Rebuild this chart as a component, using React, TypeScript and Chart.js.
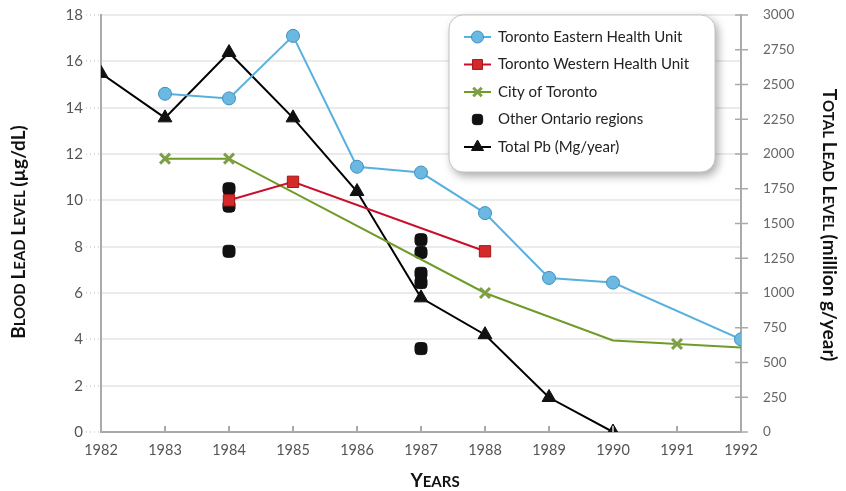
import React, { useEffect, useRef } from "react";
import { Chart, registerables } from "chart.js";
import { drawPoint } from "chart.js/helpers";

Chart.register(...registerables);

const xMin = 1982;
const xMax = 1992;

const eastYears = [1983, 1984, 1985, 1986, 1987, 1988, 1989, 1990, 1992];
const eastValues = [14.6, 14.4, 17.1, 11.45, 11.2, 9.45, 6.65, 6.45, 4.0];

const westYears = [1984, 1985, 1988];
const westValues = [10.0, 10.8, 7.8];

const cityYears = [1983, 1984, 1988, 1990, 1991, 1992];
const cityValues = [11.8, 11.8, 6.0, 3.95, 3.8, 3.65];
const cityMarkers = [true, true, true, false, true, false];

const otherYears = [1984, 1984, 1984, 1987, 1987, 1987, 1987, 1987];
const otherValues = [10.5, 9.75, 7.8, 8.3, 7.75, 6.85, 6.45, 3.6];

const totalYears = [1982, 1983, 1984, 1985, 1986, 1987, 1988, 1989, 1990];
const totalValues = [2580, 2260, 2730, 2260, 1730, 965, 700, 248, 0];

const seriesLabels = [
  "Toronto Eastern Health Unit",
  "Toronto Western Health Unit",
  "City of Toronto",
  "Other Ontario regions",
  "Total Pb (Mg/year)",
];

const leftTitle: [string, boolean][] = [
  ["B", true], ["LOOD ", false], ["L", true], ["EAD ", false], ["L", true], ["EVEL ", false], ["(µg/dL)", true],
];
const rightTitle: [string, boolean][] = [
  ["T", true], ["OTAL ", false], ["L", true], ["EAD ", false], ["L", true], ["EVEL ", false], ["(million g/year)", true],
];
const xTitle: [string, boolean][] = [["Y", true], ["EARS", false]];

const FONT = "Lato, 'Open Sans', sans-serif";

const pts = (xs: number[], ys: number[]) => xs.map((x, i) => ({ x, y: ys[i] }));

function drawSegments(ctx: CanvasRenderingContext2D, segs: [string, boolean][], cx: number, cy: number, rot: number) {
  const big = "bold 19px " + FONT;
  const small = "bold 15px " + FONT;
  let total = 0;
  const widths = segs.map(([t, b]) => {
    ctx.font = b ? big : small;
    const w = ctx.measureText(t).width;
    total += w;
    return w;
  });
  ctx.save();
  ctx.translate(cx, cy);
  ctx.rotate(rot);
  ctx.fillStyle = "#111";
  ctx.textBaseline = "alphabetic";
  ctx.textAlign = "left";
  let x = -total / 2;
  segs.forEach(([t, b], i) => {
    ctx.font = b ? big : small;
    ctx.fillText(t, x, 7);
    x += widths[i];
  });
  ctx.restore();
}

const decorPlugin = {
  id: "decor",
  afterDraw(chart: any) {
    const ctx: CanvasRenderingContext2D = chart.ctx;
    const x = chart.scales.x;
    const y2 = chart.scales.y2;
    const area = chart.chartArea;
    ctx.save();
    ctx.strokeStyle = "#aaaaaa";
    ctx.lineWidth = 2;
    for (let yr = xMin + 1; yr <= xMax; yr++) {
      const px = x.getPixelForValue(yr);
      ctx.beginPath();
      ctx.moveTo(px, area.bottom);
      ctx.lineTo(px, area.bottom - 6);
      ctx.stroke();
    }
    ctx.lineWidth = 1.5;
    y2.ticks.forEach((t: any) => {
      const py = y2.getPixelForValue(t.value);
      ctx.beginPath();
      ctx.moveTo(area.right - 6, py);
      ctx.lineTo(area.right + 7, py);
      ctx.stroke();
    });
    ctx.restore();

    drawSegments(ctx, leftTitle, 18, 232, -Math.PI / 2);
    drawSegments(ctx, rightTitle, 830, 225, Math.PI / 2);
    drawSegments(ctx, xTitle, 435, 480, 0);

    const bx = 449, by = 15, bw = 266, bh = 157, r = 14;
    ctx.save();
    ctx.shadowColor = "rgba(0,0,0,0.35)";
    ctx.shadowBlur = 10;
    ctx.shadowOffsetX = 3;
    ctx.shadowOffsetY = 4;
    ctx.beginPath();
    ctx.roundRect(bx, by, bw, bh, r);
    ctx.fillStyle = "#ffffff";
    ctx.fill();
    ctx.restore();
    ctx.save();
    ctx.beginPath();
    ctx.roundRect(bx, by, bw, bh, r);
    ctx.strokeStyle = "#c4c4c4";
    ctx.lineWidth = 1;
    ctx.stroke();
    ctx.restore();

    chart.data.datasets.forEach((ds: any, i: number) => {
      const cy = 37 + i * 27.5;
      ctx.save();
      if (ds.showLine !== false) {
        ctx.strokeStyle = ds.borderColor;
        ctx.lineWidth = 2;
        ctx.beginPath();
        ctx.moveTo(464, cy);
        ctx.lineTo(491, cy);
        ctx.stroke();
      }
      ctx.fillStyle = ds.pointBackgroundColor;
      ctx.strokeStyle = ds.pointBorderColor;
      ctx.lineWidth = ds.pointBorderWidth;
      drawPoint(
        ctx,
        { pointStyle: ds.pointStyle, rotation: 0, radius: ds.legendRadius, borderWidth: ds.pointBorderWidth } as any,
        477.5,
        cy
      );
      ctx.restore();
      ctx.save();
      ctx.fillStyle = "#222";
      ctx.font = "15px " + FONT;
      ctx.textBaseline = "middle";
      ctx.textAlign = "left";
      ctx.fillText(ds.label, 498, cy);
      ctx.restore();
    });
  },
};

const fitV = (w: number) => (s: any) => {
  s.width = w;
  s.paddingTop = 0;
  s.paddingBottom = 0;
};

export default function App() {
  const ref = useRef<HTMLCanvasElement>(null);
  useEffect(() => {
    if (!ref.current) return;
    const chart = new Chart(ref.current, {
      type: "line",
      data: {
        datasets: [
          {
            label: seriesLabels[0],
            data: pts(eastYears, eastValues),
            yAxisID: "y",
            borderColor: "#58b0de",
            borderWidth: 2,
            pointStyle: "circle",
            pointRadius: 6.5,
            legendRadius: 6,
            pointBackgroundColor: "#6bb9e2",
            pointBorderColor: "#3f8fbf",
            pointBorderWidth: 1,
          } as any,
          {
            label: seriesLabels[1],
            data: pts(westYears, westValues),
            yAxisID: "y",
            borderColor: "#c8102e",
            borderWidth: 2,
            pointStyle: "rect",
            pointRadius: 8,
            legendRadius: 7,
            pointBackgroundColor: "#d42a2a",
            pointBorderColor: "#a51616",
            pointBorderWidth: 1,
          } as any,
          {
            label: seriesLabels[2],
            data: pts(cityYears, cityValues),
            yAxisID: "y",
            borderColor: "#6f9b28",
            borderWidth: 2,
            pointStyle: "crossRot",
            pointRadius: cityMarkers.map((m) => (m ? 7 : 0)),
            legendRadius: 6,
            pointBackgroundColor: "#8aac50",
            pointBorderColor: "#7e9f48",
            pointBorderWidth: 3,
          } as any,
          {
            label: seriesLabels[3],
            data: pts(otherYears, otherValues),
            yAxisID: "y",
            showLine: false,
            borderColor: "#111111",
            pointStyle: "rectRounded",
            pointRadius: 7,
            legendRadius: 6,
            pointBackgroundColor: "#111111",
            pointBorderColor: "#111111",
            pointBorderWidth: 1,
          } as any,
          {
            label: seriesLabels[4],
            data: pts(totalYears, totalValues),
            yAxisID: "y2",
            borderColor: "#000000",
            borderWidth: 2,
            pointStyle: "triangle",
            pointRadius: 8,
            legendRadius: 7,
            pointBackgroundColor: "#111111",
            pointBorderColor: "#111111",
            pointBorderWidth: 1,
          } as any,
        ],
      },
      options: {
        responsive: false,
        animation: false,
        events: [],
        layout: { padding: { top: 15, left: 0, right: 0, bottom: 0 } },
        plugins: { legend: { display: false }, tooltip: { enabled: false } },
        elements: { line: { tension: 0 } },
        scales: {
          x: {
            type: "linear",
            min: xMin,
            max: xMax,
            afterFit: (s: any) => { s.height = 59; },
            grid: { display: false, drawTicks: false },
            border: { color: "#aaaaaa", width: 2 },
            ticks: {
              stepSize: 1,
              padding: 10,
              color: "#555555",
              font: { family: FONT, size: 14.5 },
              callback: (v: any) => String(v),
            },
          },
          y: {
            type: "linear",
            position: "left",
            min: 0,
            max: 18,
            afterFit: fitV(101),
            grid: {
              color: "#ebebeb",
              lineWidth: 2,
              tickLength: 15,
              tickColor: "#bbbbbb",
              tickWidth: 1,
              tickBorderDash: [1, 3],
            },
            border: { color: "#aaaaaa", width: 2 },
            ticks: {
              stepSize: 2,
              padding: 3,
              color: "#555555",
              font: { family: FONT, size: 15 },
            },
          },
          y2: {
            type: "linear",
            position: "right",
            min: 0,
            max: 3000,
            afterFit: fitV(105),
            grid: { drawOnChartArea: false, drawTicks: false },
            border: { color: "#aaaaaa", width: 2 },
            ticks: {
              stepSize: 250,
              padding: 22,
              color: "#666666",
              font: { family: FONT, size: 13.5 },
              callback: (v: any) => String(v),
            },
          },
        },
      } as any,
      plugins: [decorPlugin],
    });
    return () => chart.destroy();
  }, []);
  return (
    <div style={{ position: "absolute", left: 0, top: 0, width: 846, height: 491, background: "#fff" }}>
      <canvas ref={ref} width={846} height={491} style={{ display: "block" }} />
    </div>
  );
}
